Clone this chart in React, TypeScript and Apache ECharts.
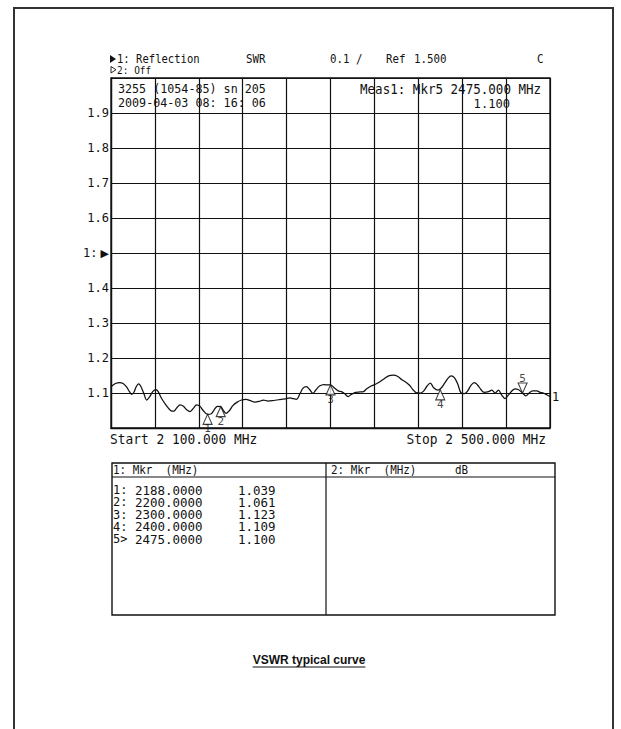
import React, { useEffect, useRef } from 'react';
import * as echarts from 'echarts';

// ---- data ----
const traceFreqMHz = [
  2100, 2104, 2108, 2111, 2114, 2117, 2119, 2121, 2123, 2125, 2127, 2130, 2132.5, 2135, 2138, 2141, 2143, 2146,
  2150, 2154, 2157, 2160, 2163, 2166, 2169, 2172, 2175, 2178, 2181, 2184, 2188, 2191, 2194, 2197, 2200, 2202,
  2205, 2208, 2211, 2215, 2219, 2223, 2227, 2231, 2235, 2239, 2243, 2247, 2251, 2255, 2259, 2263, 2266, 2269,
  2272, 2275, 2278, 2281, 2284, 2287, 2290, 2294, 2298, 2300, 2303, 2307, 2310, 2313, 2316, 2319, 2323, 2327,
  2330, 2333, 2337, 2341, 2345, 2349, 2353, 2357, 2361, 2365, 2369, 2372, 2375, 2378, 2382, 2385, 2388, 2391,
  2394, 2398, 2401, 2404, 2407, 2410, 2413, 2416, 2419, 2422, 2425, 2428, 2431, 2434, 2437, 2440, 2444, 2447,
  2450, 2453, 2456, 2459, 2462, 2465, 2468, 2471, 2475, 2478, 2481, 2484, 2488, 2491, 2494, 2497, 2500,
];
const traceSWR = [
  1.118, 1.127, 1.13, 1.127, 1.118, 1.103, 1.096, 1.103, 1.118, 1.126, 1.12, 1.098, 1.08, 1.088, 1.104, 1.11, 1.104, 1.085,
  1.066, 1.051, 1.048, 1.058, 1.066, 1.062, 1.052, 1.047, 1.056, 1.066, 1.062, 1.05, 1.039, 1.04, 1.052, 1.062, 1.061, 1.052,
  1.042, 1.05, 1.064, 1.074, 1.08, 1.082, 1.078, 1.074, 1.076, 1.08, 1.077, 1.078, 1.08, 1.082, 1.083, 1.086, 1.084, 1.082,
  1.097, 1.114, 1.118, 1.11, 1.099, 1.11, 1.12, 1.124, 1.123, 1.123, 1.116, 1.106, 1.104, 1.098, 1.09, 1.096, 1.102, 1.103,
  1.104, 1.112, 1.12, 1.125, 1.132, 1.141, 1.149, 1.151, 1.148, 1.138, 1.13, 1.122, 1.11, 1.101, 1.1, 1.106, 1.12, 1.128,
  1.115, 1.108, 1.115, 1.128, 1.142, 1.149, 1.143, 1.125, 1.1, 1.098, 1.106, 1.122, 1.13, 1.123, 1.11, 1.102, 1.104, 1.108,
  1.1, 1.108, 1.094, 1.084, 1.094, 1.105, 1.112, 1.11, 1.1, 1.092, 1.1, 1.106, 1.106, 1.102, 1.1, 1.095, 1.09,
];
const markerIds = ['1', '2', '3', '4', '5'];
const markerRowPrefix = ['1:', '2:', '3:', '4:', '5>'];
const markerFreqMHz = [2188, 2200, 2300, 2400, 2475];
const markerSWR = [1.039, 1.061, 1.123, 1.109, 1.1];
const activeMarker = 4;
const yTickLabels = ['', '1.1', '1.2', '1.3', '1.4', '1:', '1.6', '1.7', '1.8', '1.9', ''];
const xMin = 2100;
const xMax = 2500;
const xStep = 40;
const yMin = 1.0;
const yMax = 2.0;
const yStep = 0.1;
const headerInfo = ['3255 (1054-85) sn 205', '2009-04-03 08: 16: 06'];
const startLabel = 'Start 2 100.000 MHz';
const stopLabel = 'Stop 2 500.000 MHz';
const caption = 'VSWR typical curve';

const MONO = '"DejaVu Sans Mono", "Liberation Mono", monospace';
const INK = '#111';

function textEl(text: string, x: number, y: number, size: number, align: string = 'left', sx: number = 1) {
  return {
    type: 'text',
    x,
    y,
    scaleX: sx,
    silent: true,
    style: {
      text,
      font: `${size}px ${MONO}`,
      fill: INK,
      textAlign: align,
      textVerticalAlign: 'middle',
      lineHeight: size,
    },
  };
}

export default function App() {
  const ref = useRef<HTMLDivElement>(null);

  useEffect(() => {
    if (!ref.current) return;
    const chart = echarts.init(ref.current, null, { renderer: 'svg' });

    const capFont = 'bold 12px "Liberation Sans", Arial, sans-serif';
    let capW = 110;
    try {
      const ctx = document.createElement('canvas').getContext('2d');
      if (ctx) {
        ctx.font = capFont;
        capW = ctx.measureText(caption).width;
      }
    } catch (e) {}
    const capX = 309;

    const tableRows: any[] = [];
    markerFreqMHz.forEach((f, i) => {
      const y = 490 + i * 12.3;
      tableRows.push(textEl(markerRowPrefix[i], 113, y, 12.5, 'left', 0.96));
      tableRows.push(textEl(f.toFixed(4), 135, y, 13, 'left', 0.96));
      tableRows.push(textEl(markerSWR[i].toFixed(3), 238, y, 13, 'left', 0.96));
    });

    const markerData = markerFreqMHz.map((f, i) => {
      const up = i !== activeMarker;
      return {
        value: [f, markerSWR[i]],
        symbolRotate: up ? 0 : 180,
        symbolOffset: up ? [0, 5] : [0, -5],
        label: {
          show: true,
          formatter: markerIds[i],
          position: up ? 'bottom' : 'top',
          distance: 0,
          fontFamily: MONO,
          fontSize: 11,
          lineHeight: 8,
          color: INK,
        },
      };
    });

    const option: any = {
      animation: false,
      backgroundColor: '#fff',
      grid: {
        left: 111,
        top: 78,
        width: 439,
        height: 350,
        show: true,
        borderColor: INK,
        borderWidth: 1.3,
        containLabel: false,
      },
      xAxis: {
        type: 'value',
        min: xMin,
        max: xMax,
        interval: xStep,
        axisLine: { show: true, lineStyle: { color: INK, width: 1.3 } },
        axisTick: { show: false },
        axisLabel: { show: false },
        splitLine: { show: true, lineStyle: { color: INK, width: 1.2 } },
      },
      yAxis: {
        type: 'value',
        min: yMin,
        max: yMax,
        interval: yStep,
        axisLine: { show: true, lineStyle: { color: INK, width: 1.3 } },
        axisTick: { show: false },
        splitLine: { show: true, lineStyle: { color: INK, width: 1.2 } },
        axisLabel: {
          show: true,
          margin: 2,
          color: INK,
          fontFamily: MONO,
          fontSize: 12,
          formatter: (v: number) => {
            const i = Math.round((v - yMin) / yStep);
            const t = yTickLabels[i] ?? '';
            return t === '1:' ? '1:{m|▶}' : t;
          },
          rich: {
            m: { fontFamily: '"DejaVu Sans", sans-serif', fontSize: 11, color: INK, padding: [0, 0, 0, 3] },
          },
        },
      },
      series: [
        {
          type: 'line',
          data: traceFreqMHz.map((f, i) => [f, traceSWR[i]]),
          showSymbol: false,
          smooth: 0.35,
          lineStyle: { color: INK, width: 1.25 },
          z: 3,
          endLabel: {
            show: true,
            formatter: '1',
            distance: 2,
            fontFamily: MONO,
            fontSize: 12,
            color: INK,
          },
        },
        {
          type: 'scatter',
          data: markerData,
          symbol: 'triangle',
          symbolSize: [9, 10],
          itemStyle: { color: '#fff', borderColor: INK, borderWidth: 1.1 },
          z: 4,
        },
      ],
      graphic: [
        // page frame
        {
          type: 'polyline',
          silent: true,
          shape: { points: [[14, 740], [14, 8], [613, 8], [613, 740]] },
          style: { stroke: '#333', lineWidth: 2, fill: 'none' },
        },
        // top header lines
        {
          type: 'polygon',
          silent: true,
          shape: { points: [[110, 55], [110, 63], [116, 59]] },
          style: { fill: INK },
        },
        textEl('1: Reflection', 117, 59, 12, 'left', 0.88),
        textEl('SWR', 246, 59, 12, 'left', 0.9),
        textEl('0.1 /', 330, 59, 12, 'left', 0.9),
        textEl('Ref', 386, 59, 12, 'left', 0.9),
        textEl('1.500', 414, 59, 12, 'left', 0.9),
        textEl('C', 537, 59, 12, 'left', 0.9),
        {
          type: 'polygon',
          silent: true,
          shape: { points: [[111, 66.5], [111, 73], [116, 69.7]] },
          style: { fill: '#fff', stroke: INK, lineWidth: 0.9 },
        },
        textEl('2: Off', 117, 70, 10, 'left', 0.95),
        // info inside grid's top row
        textEl(headerInfo[0], 118, 89, 13, 'left', 0.9),
        textEl(headerInfo[1], 118, 103, 13, 'left', 0.9),
        textEl(`Meas1: Mkr${markerIds[activeMarker]} ${markerFreqMHz[activeMarker].toFixed(3)} MHz`, 360, 89, 13.5, 'left', 0.93),
        textEl(markerSWR[activeMarker].toFixed(3), 510, 103, 13, 'right', 0.93),
        // start / stop
        textEl(startLabel, 110, 439, 14, 'left', 0.92),
        textEl(stopLabel, 546, 439, 14, 'right', 0.92),
        // marker table
        {
          type: 'rect',
          silent: true,
          shape: { x: 112, y: 463, width: 443, height: 152 },
          style: { fill: 'none', stroke: INK, lineWidth: 1.4 },
        },
        {
          type: 'line',
          silent: true,
          shape: { x1: 112, y1: 477, x2: 555, y2: 477 },
          style: { stroke: INK, lineWidth: 1.2 },
        },
        {
          type: 'line',
          silent: true,
          shape: { x1: 326, y1: 463, x2: 326, y2: 615 },
          style: { stroke: INK, lineWidth: 1.2 },
        },
        textEl('1: Mkr  (MHz)', 113, 470, 11.5, 'left', 0.95),
        textEl('2: Mkr  (MHz)', 331, 470, 11.5, 'left', 0.95),
        textEl('dB', 455, 470, 11.5, 'left', 0.95),
        ...tableRows,
        // caption
        {
          type: 'text',
          x: capX,
          y: 660,
          silent: true,
          style: {
            text: caption,
            font: capFont,
            fill: INK,
            textAlign: 'center',
            textVerticalAlign: 'middle',
          },
        },
        {
          type: 'line',
          silent: true,
          shape: { x1: capX - capW / 2, y1: 667, x2: capX + capW / 2, y2: 667 },
          style: { stroke: INK, lineWidth: 1 },
        },
      ],
    };

    chart.setOption(option);
    return () => chart.dispose();
  }, []);

  return (
    <div
      ref={ref}
      style={{ position: 'fixed', left: 0, top: 0, width: 621, height: 729, background: '#fff' }}
    />
  );
}
